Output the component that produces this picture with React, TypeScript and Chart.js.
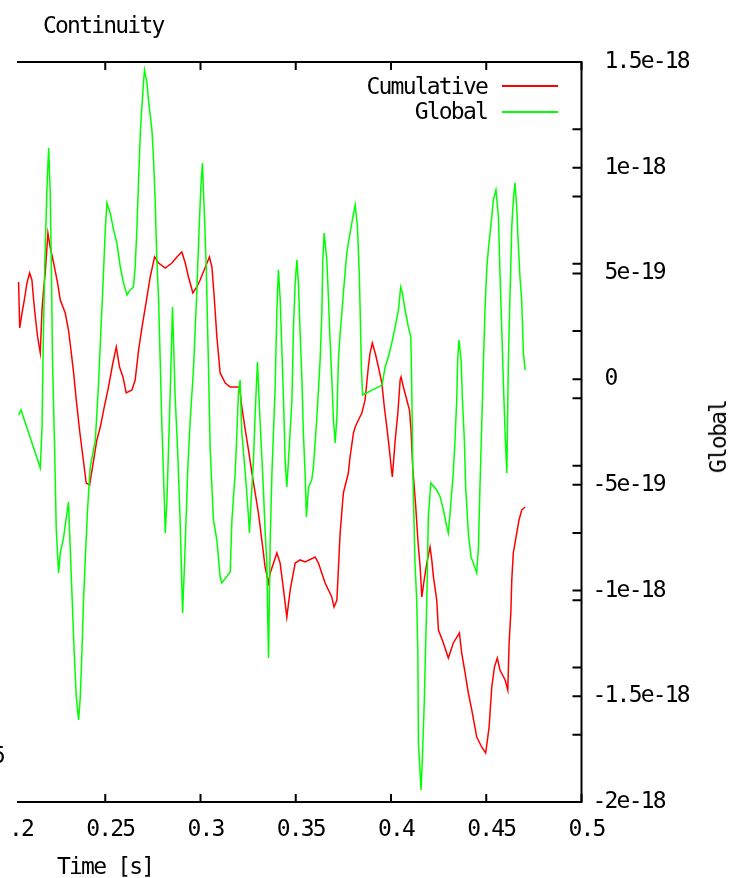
import { useEffect, useRef } from "react";
import { Chart, registerables } from "chart.js";

Chart.register(...registerables);

// ---- Data (time in s) ----
const tGlobal = [
  0.2045, 0.2058, 0.2159, 0.2168, 0.2174, 0.2182, 0.2194, 0.2203, 0.2211, 0.2218,
  0.2223, 0.2234, 0.2243, 0.2255, 0.2264, 0.2281, 0.2299, 0.2307, 0.2320, 0.2337,
  0.2348, 0.2360, 0.2369, 0.2378, 0.2386, 0.2395, 0.2407, 0.2421, 0.2448, 0.2465,
  0.2476, 0.2487, 0.2500, 0.2509, 0.2526, 0.2544, 0.2561, 0.2579, 0.2596, 0.2614,
  0.2631, 0.2648, 0.2657, 0.2666, 0.2675, 0.2684, 0.2698, 0.2706, 0.2719, 0.2727,
  0.2745, 0.2753, 0.2762, 0.2771, 0.2780, 0.2797, 0.2810, 0.2815, 0.2824, 0.2841,
  0.2853, 0.2867, 0.2880, 0.2893, 0.2906, 0.2917, 0.2933, 0.2946, 0.2963, 0.2981,
  0.2993, 0.3002, 0.3010, 0.3019, 0.3030, 0.3042, 0.3051, 0.3068, 0.3086, 0.3103,
  0.3112, 0.3156, 0.3165, 0.3182, 0.3191, 0.3199, 0.3208, 0.3217, 0.3235, 0.3252,
  0.3257, 0.3264, 0.3278, 0.3287, 0.3299, 0.3310, 0.3322, 0.3331, 0.3339, 0.3348,
  0.3357, 0.3366, 0.3375, 0.3383, 0.3392, 0.3401, 0.3409, 0.3418, 0.3436, 0.3444,
  0.3453, 0.3462, 0.3480, 0.3488, 0.3497, 0.3506, 0.3514, 0.3523, 0.3532, 0.3540,
  0.3549, 0.3556, 0.3567, 0.3584, 0.3593, 0.3611, 0.3628, 0.3637, 0.3642, 0.3649,
  0.3663, 0.3672, 0.3680, 0.3689, 0.3698, 0.3707, 0.3716, 0.3724, 0.3733, 0.3742,
  0.3750, 0.3768, 0.3785, 0.3800, 0.3812, 0.3824, 0.3834, 0.3845, 0.3851, 0.3953,
  0.3969, 0.3986, 0.4004, 0.4022, 0.4039, 0.4051, 0.4060, 0.4074, 0.4091, 0.4104,
  0.4109, 0.4114, 0.4126, 0.4135, 0.4141, 0.4144, 0.4158, 0.4165, 0.4175, 0.4183,
  0.4188, 0.4196, 0.4209, 0.4240, 0.4258, 0.4275, 0.4293, 0.4301, 0.4310, 0.4327,
  0.4336, 0.4345, 0.4350, 0.4357, 0.4368, 0.4375, 0.4385, 0.4392, 0.4406, 0.4420,
  0.4432, 0.4450, 0.4459, 0.4467, 0.4476, 0.4485, 0.4494, 0.4503, 0.4511, 0.4520,
  0.4529, 0.4537, 0.4551, 0.4564, 0.4572, 0.4581, 0.4590, 0.4599, 0.4608, 0.4616,
  0.4625, 0.4634, 0.4642, 0.4651, 0.4660, 0.4668, 0.4677, 0.4686, 0.4695, 0.4704,
];

const globalValues = [
  -1.70e-19, -1.46e-19, -4.20e-19, -2.31e-19, 1.38e-19, 5.26e-19, 9.04e-19, 10.93e-19, 8.85e-19, 4.93e-19,
  0.91e-19, -3.21e-19, -7.13e-19, -9.17e-19, -8.22e-19, -7.51e-19, -6.33e-19, -5.81e-19, -8.89e-19, -12.95e-19,
  -15.03e-19, -16.12e-19, -15.03e-19, -12.81e-19, -10.45e-19, -8.55e-19, -6.19e-19, -4.16e-19, -2.88e-19, -0.18e-19,
  2.09e-19, 4.22e-19, 7.05e-19, 8.33e-19, 7.86e-19, 7.05e-19, 6.44e-19, 5.30e-19, 4.55e-19, 3.98e-19,
  4.22e-19, 4.36e-19, 5.30e-19, 7.05e-19, 9.42e-19, 11.64e-19, 13.68e-19, 14.62e-19, 14.01e-19, 13.20e-19,
  11.78e-19, 10.51e-19, 8.47e-19, 5.64e-19, 3.74e-19, -2.07e-19, -5.72e-19, -7.28e-19, -5.72e-19, -0.66e-19,
  3.41e-19, -0.85e-19, -3.35e-19, -6.66e-19, -11.06e-19, -8.55e-19, -4.30e-19, -1.93e-19, 0.43e-19, 4.22e-19,
  7.20e-19, 9.09e-19, 10.22e-19, 8.14e-19, 5.30e-19, 0.57e-19, -3.35e-19, -6.66e-19, -7.61e-19, -9.36e-19,
  -9.64e-19, -9.12e-19, -6.66e-19, -4.44e-19, -2.55e-19, -0.66e-19, -0.04e-19, -2.55e-19, -4.44e-19, -6.52e-19,
  -7.28e-19, -6.05e-19, -3.82e-19, -1.60e-19, 0.81e-19, -1.46e-19, -3.68e-19, -5.39e-19, -7.13e-19, -8.70e-19,
  -13.19e-19, -7.61e-19, -4.44e-19, -2.55e-19, -0.37e-19, 3.27e-19, 5.16e-19, 3.84e-19, -0.99e-19, -3.82e-19,
  -5.10e-19, -3.82e-19, -0.99e-19, 2.47e-19, 4.55e-19, 5.64e-19, 4.55e-19, 2.18e-19, 0.10e-19, -2.55e-19,
  -4.44e-19, -6.52e-19, -5.10e-19, -4.77e-19, -4.16e-19, -1.79e-19, 0.91e-19, 3.13e-19, 5.64e-19, 6.91e-19,
  5.64e-19, 3.74e-19, 1.85e-19, 0.10e-19, -1.93e-19, -3.02e-19, -1.79e-19, 0.91e-19, 2.18e-19, 3.13e-19,
  4.07e-19, 5.97e-19, 6.91e-19, 7.67e-19, 8.24e-19, 7.20e-19, 4.83e-19, 0.43e-19, -0.75e-19, -0.28e-19,
  0.57e-19, 1.05e-19, 1.71e-19, 2.47e-19, 3.27e-19, 4.36e-19, 4.07e-19, 3.27e-19, 2.47e-19, 1.99e-19,
  -0.37e-19, -4.16e-19, -8.70e-19, -10.45e-19, -12.95e-19, -17.21e-19, -19.43e-19, -17.87e-19, -15.18e-19, -12.20e-19,
  -10.45e-19, -6.52e-19, -4.91e-19, -5.24e-19, -5.57e-19, -6.19e-19, -6.99e-19, -7.28e-19, -6.33e-19, -4.44e-19,
  -2.88e-19, -0.99e-19, 0.91e-19, 1.85e-19, 0.91e-19, -0.99e-19, -2.88e-19, -5.10e-19, -7.28e-19, -8.41e-19,
  -8.70e-19, -9.17e-19, -7.94e-19, -5.10e-19, -2.26e-19, 0.76e-19, 3.41e-19, 5.30e-19, 6.11e-19, 6.91e-19,
  7.67e-19, 8.47e-19, 8.95e-19, 7.67e-19, 5.02e-19, 2.47e-19, -0.18e-19, -2.55e-19, -4.44e-19, 0.76e-19,
  4.07e-19, 7.20e-19, 8.47e-19, 9.28e-19, 8.14e-19, 6.44e-19, 4.83e-19, 3.74e-19, 1.24e-19, 0.43e-19,
];

const tCumulative = [
  0.2045, 0.2051, 0.2063, 0.2075, 0.2089, 0.2103, 0.2115, 0.2124, 0.2133, 0.2145,
  0.2159, 0.2168, 0.2176, 0.2185, 0.2199, 0.2211, 0.2229, 0.2250, 0.2264, 0.2290,
  0.2307, 0.2320, 0.2334, 0.2348, 0.2365, 0.2383, 0.2400, 0.2418, 0.2435, 0.2456,
  0.2474, 0.2495, 0.2517, 0.2540, 0.2558, 0.2575, 0.2593, 0.2610, 0.2640, 0.2657,
  0.2675, 0.2693, 0.2719, 0.2736, 0.2759, 0.2780, 0.2815, 0.2850, 0.2876, 0.2902,
  0.2920, 0.2937, 0.2960, 0.2981, 0.2998, 0.3019, 0.3034, 0.3047, 0.3060, 0.3072,
  0.3086, 0.3103, 0.3130, 0.3156, 0.3205, 0.3217, 0.3235, 0.3252, 0.3270, 0.3287,
  0.3304, 0.3322, 0.3339, 0.3357, 0.3366, 0.3401, 0.3418, 0.3436, 0.3453, 0.3471,
  0.3497, 0.3523, 0.3549, 0.3602, 0.3619, 0.3654, 0.3689, 0.3701, 0.3716, 0.3733,
  0.3750, 0.3776, 0.3785, 0.3803, 0.3812, 0.3829, 0.3847, 0.3864, 0.3881, 0.3890,
  0.3902, 0.3917, 0.3934, 0.3952, 0.3965, 0.3978, 0.3990, 0.4001, 0.4007, 0.4022,
  0.4036, 0.4048, 0.4053, 0.4065, 0.4083, 0.4097, 0.4105, 0.4114, 0.4130, 0.4141,
  0.4153, 0.4162, 0.4174, 0.4188, 0.4205, 0.4214, 0.4223, 0.4240, 0.4249, 0.4275,
  0.4301, 0.4327, 0.4359, 0.4371, 0.4389, 0.4406, 0.4424, 0.4450, 0.4476, 0.4497,
  0.4515, 0.4529, 0.4543, 0.4558, 0.4572, 0.4599, 0.4613, 0.4620, 0.4629, 0.4634,
  0.4642, 0.4660, 0.4672, 0.4686, 0.4704,
];

const cumulativeValues = [
  3.65e-18, 0.23e-18, 1.34e-18, 2.31e-18, 3.57e-18, 4.32e-18, 3.80e-18, 2.31e-18, 1.05e-18, -0.44e-18,
  -1.63e-18, 1.57e-18, 3.05e-18, 4.32e-18, 7.29e-18, 6.25e-18, 5.06e-18, 3.57e-18, 2.31e-18, 1.34e-18,
  0.08e-18, -1.41e-18, -3.11e-18, -5.12e-18, -7.35e-18, -9.36e-18, -11.29e-18, -11.44e-18, -9.95e-18, -8.09e-18,
  -7.13e-18, -5.64e-18, -4.16e-18, -2.37e-18, -1.18e-18, -2.67e-18, -3.41e-18, -4.60e-18, -4.38e-18, -3.64e-18,
  -1.41e-18, 0.30e-18, 2.53e-18, 4.02e-18, 5.51e-18, 5.06e-18, 4.69e-18, 5.06e-18, 5.51e-18, 5.88e-18,
  5.06e-18, 4.02e-18, 2.83e-18, 3.28e-18, 3.80e-18, 4.54e-18, 5.06e-18, 5.51e-18, 4.76e-18, 2.53e-18,
  -0.44e-18, -3.11e-18, -3.86e-18, -4.16e-18, -4.16e-18, -5.64e-18, -7.35e-18, -8.84e-18, -10.55e-18, -12.03e-18,
  -13.52e-18, -15.53e-18, -17.53e-18, -18.72e-18, -17.98e-18, -16.49e-18, -17.24e-18, -19.24e-18, -21.25e-18, -19.24e-18,
  -17.24e-18, -17.01e-18, -17.16e-18, -16.79e-18, -17.24e-18, -18.72e-18, -19.76e-18, -20.51e-18, -19.99e-18, -15.01e-18,
  -12.03e-18, -10.55e-18, -9.36e-18, -7.57e-18, -7.13e-18, -6.61e-18, -6.09e-18, -5.12e-18, -2.67e-18, -1.63e-18,
  -0.89e-18, -1.63e-18, -2.67e-18, -3.86e-18, -5.64e-18, -7.13e-18, -8.61e-18, -10.10e-18, -10.84e-18, -8.09e-18,
  -6.09e-18, -3.64e-18, -3.41e-18, -4.16e-18, -5.12e-18, -5.86e-18, -7.35e-18, -10.10e-18, -13.07e-18, -15.53e-18,
  -17.53e-18, -19.76e-18, -18.50e-18, -17.24e-18, -16.05e-18, -17.01e-18, -18.28e-18, -19.99e-18, -22.22e-18, -23.18e-18,
  -24.30e-18, -23.18e-18, -22.44e-18, -23.92e-18, -25.41e-18, -26.90e-18, -28.16e-18, -30.17e-18, -30.91e-18, -31.36e-18,
  -29.43e-18, -26.45e-18, -24.97e-18, -24.30e-18, -25.19e-18, -25.93e-18, -26.68e-18, -23.18e-18, -20.95e-18, -18.50e-18,
  -16.49e-18, -15.01e-18, -14.04e-18, -13.30e-18, -13.07e-18,
];

// ---- Axes ----
const xTickValues = [0.2, 0.25, 0.3, 0.35, 0.4, 0.45, 0.5];
const xTickLabels = ["0.2", "0.25", "0.3", "0.35", "0.4", "0.45", "0.5"];
const y2TickValues = [-2e-18, -1.5e-18, -1e-18, -5e-19, 0, 5e-19, 1e-18, 1.5e-18];
const y2TickLabels = ["-2e-18", "-1.5e-18", "-1e-18", "-5e-19", " 0", " 5e-19", " 1e-18", " 1.5e-18"];
const y1TickValues = [
  -3.5e-17, -3e-17, -2.5e-17, -2e-17, -1.5e-17, -1e-17, -5e-18, 0, 5e-18, 1e-17, 1.5e-17, 2e-17,
];

const chartTitle = "Continuity";
const xTitle = "Time [s]";
const y2Title = "Global";
const seriesNames = ["Cumulative", "Global"];
const seriesColors = ["#ff0000", "#00ff00"];

const FONT = '"DejaVu Sans Mono", monospace';
const FONT_SIZE = 23;
const LETTER_SPACING = "-1.8px";

const setSpacing = (chart: any) => {
  try {
    (chart.ctx as any).letterSpacing = LETTER_SPACING;
  } catch (e) {
    /* ignore */
  }
};

const framePlugin = {
  id: "gnuplotFrame",
  beforeLayout: setSpacing,
  beforeDraw: setSpacing,
  afterDraw(chart: any) {
    const { ctx, chartArea: a, scales } = chart;
    ctx.save();
    ctx.strokeStyle = "#000";
    ctx.lineWidth = 2;
    ctx.beginPath();
    ctx.moveTo(a.left, a.top);
    ctx.lineTo(a.right, a.top);
    ctx.lineTo(a.right, a.bottom);
    ctx.lineTo(a.left, a.bottom);
    ctx.stroke();
    const tl = 8;
    ctx.beginPath();
    xTickValues.forEach((v) => {
      const px = scales.x.getPixelForValue(v);
      ctx.moveTo(px, a.top);
      ctx.lineTo(px, a.top + tl);
      ctx.moveTo(px, a.bottom);
      ctx.lineTo(px, a.bottom - tl);
    });
    y2TickValues.forEach((v) => {
      const py = scales.y2.getPixelForValue(v);
      ctx.moveTo(a.right - 9, py);
      ctx.lineTo(a.right, py);
    });
    y1TickValues.forEach((v) => {
      const py = scales.y.getPixelForValue(v);
      ctx.moveTo(a.right - 9, py);
      ctx.lineTo(a.right, py);
    });
    ctx.stroke();
    ctx.restore();
  },
};

export default function App() {
  const canvasRef = useRef<HTMLCanvasElement | null>(null);

  useEffect(() => {
    const canvas = canvasRef.current;
    if (!canvas) return;
    const chart = new Chart(canvas, {
      type: "line",
      data: {
        datasets: [
          {
            label: seriesNames[0],
            data: tCumulative.map((t, i) => ({ x: t, y: cumulativeValues[i] })),
            borderColor: seriesColors[0],
            backgroundColor: seriesColors[0],
            borderWidth: 1.5,
            pointRadius: 0,
            tension: 0,
            yAxisID: "y",
            order: 1,
          },
          {
            label: seriesNames[1],
            data: tGlobal.map((t, i) => ({ x: t, y: globalValues[i] })),
            borderColor: seriesColors[1],
            backgroundColor: seriesColors[1],
            borderWidth: 1.5,
            pointRadius: 0,
            tension: 0,
            yAxisID: "y2",
            order: 0,
          },
        ],
      },
      options: {
        animation: false,
        responsive: false,
        devicePixelRatio: 1,
        layout: { padding: { left: 10, top: 62, right: 0, bottom: 0 } },
        plugins: { legend: { display: false }, tooltip: { enabled: false }, title: { display: false } },
        scales: {
          x: {
            type: "linear",
            min: 0.2,
            max: 0.5,
            afterBuildTicks: (s: any) => {
              s.ticks = xTickValues.map((v) => ({ value: v }));
            },
            afterFit: (s: any) => {
              s.height = 76;
              s.paddingLeft = 0;
              s.paddingRight = 0;
            },
            ticks: {
              callback: (_v: any, i: number) => xTickLabels[i],
              autoSkip: false,
              maxRotation: 0,
              minRotation: 0,
              labelOffset: 5,
              padding: 14,
              color: "#000",
              font: { family: FONT, size: FONT_SIZE },
            },
            grid: { display: false, drawTicks: false },
            border: { display: false },
          },
          y: {
            type: "linear",
            display: false,
            min: -3.5e-17,
            max: 2e-17,
          },
          y2: {
            type: "linear",
            position: "right",
            min: -2e-18,
            max: 1.5e-18,
            afterBuildTicks: (s: any) => {
              s.ticks = y2TickValues.map((v) => ({ value: v }));
            },
            afterFit: (s: any) => {
              s.width = 148.5;
              s.paddingTop = 0;
              s.paddingBottom = 0;
            },
            ticks: {
              callback: (_v: any, i: number) => y2TickLabels[i],
              autoSkip: false,
              crossAlign: "near",
              padding: 11,
              color: "#000",
              font: { family: FONT, size: FONT_SIZE },
            },
            grid: { display: false, drawTicks: false, drawOnChartArea: false },
            border: { display: false },
          },
        },
      },
      plugins: [framePlugin],
    } as any);
    return () => chart.destroy();
  }, []);

  const text: any = {
    position: "absolute",
    fontFamily: FONT,
    fontSize: FONT_SIZE,
    letterSpacing: LETTER_SPACING,
    lineHeight: "20px",
    color: "#000",
    whiteSpace: "pre",
  };

  return (
    <div
      style={{
        position: "absolute",
        left: 0,
        top: 0,
        width: 730,
        height: 878,
        overflow: "hidden",
        background: "#fff",
      }}
    >
      <canvas ref={canvasRef} width={730} height={878} style={{ position: "absolute", left: 0, top: 0, width: 730, height: 878 }} />
      <div style={{ position: "absolute", left: 0, top: 55, width: 17, height: 757, background: "#fff" }} />
      <div style={{ position: "absolute", left: 0, top: 812, width: 13, height: 36, background: "#fff" }} />
      <div style={{ ...text, left: -8, top: 745 }}>5</div>
      <div style={{ ...text, left: 43, top: 15 }}>{chartTitle}</div>
      <div style={{ ...text, right: 243, top: 76, textAlign: "right" }}>{seriesNames[0]}</div>
      <div style={{ ...text, right: 243, top: 101, textAlign: "right" }}>{seriesNames[1]}</div>
      <div style={{ position: "absolute", left: 502, top: 85, width: 56, height: 2, background: seriesColors[0] }} />
      <div style={{ position: "absolute", left: 502, top: 111, width: 56, height: 2, background: seriesColors[1] }} />
      <div style={{ ...text, left: 57, top: 856 }}>{xTitle}</div>
      <div
        style={{
          ...text,
          left: 718,
          top: 437,
          transform: "translate(-50%, -50%) rotate(-90deg)",
        }}
      >
        {y2Title}
      </div>
    </div>
  );
}
